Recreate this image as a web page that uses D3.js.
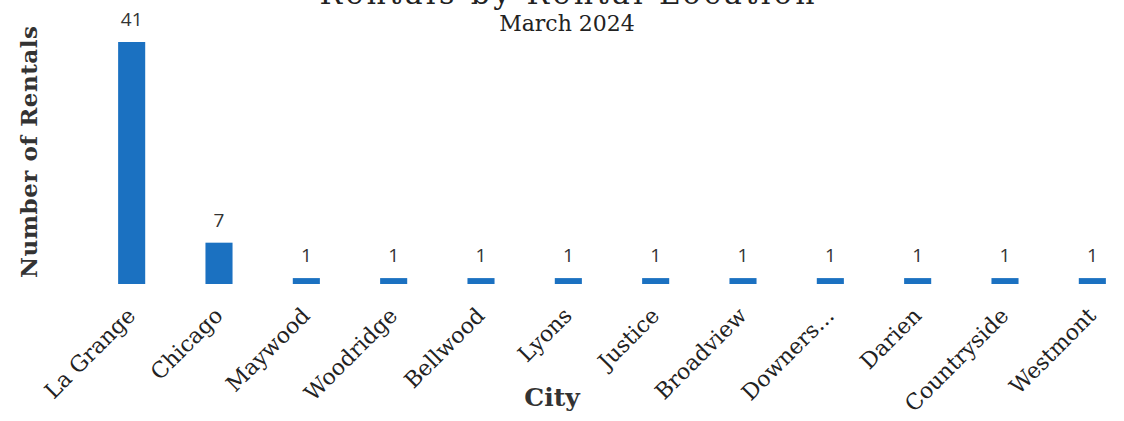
<!DOCTYPE html>
<html>
<head>
<meta charset="utf-8">
<script src="https://cdn.jsdelivr.net/npm/d3@7"></script>
<style>
  html, body { margin: 0; padding: 0; background: #fff; }
  svg { display: block; }
</style>
</head>
<body>
<div id="chart"></div>
<script>
// chart data
var cities = ["La Grange", "Chicago", "Maywood", "Woodridge", "Bellwood", "Lyons",
  "Justice", "Broadview", "Downers...", "Darien", "Countryside", "Westmont"];
var rentals = [41, 7, 1, 1, 1, 1, 1, 1, 1, 1, 1, 1];
var titleText = "Rentals by Rental Location";
var subtitleText = "March 2024";
var xTitle = "City";
var yTitle = "Number of Rentals";

var width = 1124, height = 421;
var serif = "'DejaVu Serif', serif";

var svg = d3.select("#chart").append("svg")
  .attr("width", width)
  .attr("height", height);

// set the ranges
var x = d3.scaleBand()
  .domain(cities)
  .range([88, 1136])
  .paddingInner(0.69)
  .paddingOuter(0.345);

var y = d3.scaleLinear()
  .domain([0, 41])
  .range([284, 42]);

var data = cities.map(function(c, i) { return {city: c, value: rentals[i]}; });

// bars
svg.selectAll(".bar")
  .data(data)
  .enter().append("rect")
  .attr("class", "bar")
  .attr("x", function(d) { return x(d.city); })
  .attr("width", x.bandwidth())
  .attr("y", function(d) { return y(d.value); })
  .attr("height", function(d) { return y(0) - y(d.value); })
  .attr("fill", "#1b71c1");

// value labels
svg.selectAll(".val")
  .data(data)
  .enter().append("text")
  .attr("class", "val")
  .attr("x", function(d) { return x(d.city) + x.bandwidth() / 2; })
  .attr("y", function(d) { return y(d.value) - 16; })
  .attr("text-anchor", "middle")
  .style("font-family", "'Open Sans', sans-serif")
  .style("font-size", "19px")
  .style("fill", "#333")
  .text(function(d) { return d.value; });

// x axis labels, rotated
var xAxis = svg.append("g")
  .attr("transform", "translate(0,284)")
  .call(d3.axisBottom(x).tickSize(0).tickPadding(0));
xAxis.select(".domain").remove();
xAxis.selectAll("text")
  .attr("x", 0).attr("y", 0).attr("dy", 0)
  .attr("transform", "translate(5,33) rotate(-45)")
  .style("text-anchor", "end")
  .style("font-family", serif)
  .style("font-size", "22px")
  .style("fill", "#222");

// titles (main title sits mostly above the top edge, as in the source)
svg.append("text")
  .attr("x", 567).attr("y", 4)
  .attr("text-anchor", "middle")
  .attr("textLength", 495)
  .style("font-family", serif)
  .style("font-size", "30px")
  .style("fill", "#222")
  .text(titleText);

svg.append("text")
  .attr("x", 567).attr("y", 31)
  .attr("text-anchor", "middle")
  .style("font-family", serif)
  .style("font-size", "22px")
  .style("fill", "#222")
  .text(subtitleText);

svg.append("text")
  .attr("x", 552).attr("y", 406)
  .attr("text-anchor", "middle")
  .style("font-family", serif)
  .style("font-weight", "bold")
  .style("font-size", "25px")
  .style("fill", "#333")
  .text(xTitle);

svg.append("text")
  .attr("transform", "translate(37,152) rotate(-90)")
  .attr("text-anchor", "middle")
  .attr("textLength", 252)
  .style("font-family", serif)
  .style("font-weight", "bold")
  .style("font-size", "23px")
  .style("fill", "#333")
  .text(yTitle);
</script>
</body>
</html>
